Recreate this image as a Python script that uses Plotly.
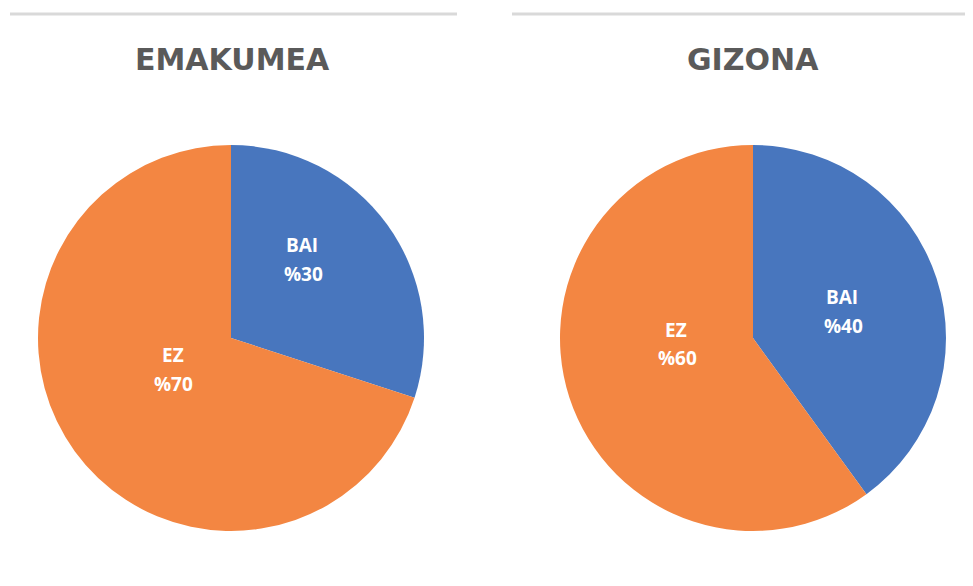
import plotly.graph_objects as go

titles = ["EMAKUMEA", "GIZONA"]
categories = ["BAI", "EZ"]
emakumea_values = [30, 70]
gizona_values = [40, 60]
colors = ["#4876BE", "#F38642"]

W, H = 973, 586
OFF = 8  # page offset of the plot div


def px(x):
    return (x - OFF) / W


def py(y):
    return 1 - (y - OFF) / H


fig = go.Figure()

pies = [
    (emakumea_values, 38, 424),
    (gizona_values, 560, 946),
]
for vals, x0, x1 in pies:
    fig.add_trace(go.Pie(
        labels=categories,
        values=vals,
        sort=False,
        direction="clockwise",
        rotation=0,
        marker=dict(colors=colors, line=dict(width=0)),
        textinfo="none",
        domain=dict(x=[px(x0), px(x1)], y=[py(531), py(145)]),
        showlegend=False,
        hoverinfo="label+percent",
    ))

# label positions (name line, value line) per pie, per category
label_pos = [
    [((302, 245), (303, 274)), ((173, 355), (173, 384))],
    [((842, 297), (843, 326)), ((676, 330), (677, 358))],
]
lab_font = dict(family="Open Sans", size=19, color="white", weight="bold")
for vals, positions in zip([emakumea_values, gizona_values], label_pos):
    for cat, v, (p1, p2) in zip(categories, vals, positions):
        fig.add_annotation(text=cat, x=px(p1[0]), y=py(p1[1]), xref="paper", yref="paper",
                           showarrow=False, xanchor="center", yanchor="middle", font=lab_font)
        fig.add_annotation(text=f"%{v}", x=px(p2[0]), y=py(p2[1]), xref="paper", yref="paper",
                           showarrow=False, xanchor="center", yanchor="middle", font=lab_font)

title_x = [232, 753]
for t, x in zip(titles, title_x):
    fig.add_annotation(
        text=t, x=px(x), y=py(60), xref="paper", yref="paper",
        showarrow=False, xanchor="center", yanchor="middle",
        font=dict(family="DejaVu Sans", size=30, color="#5A5A5A", weight="bold"),
    )

for x0, x1 in [(10, 457), (512, 968)]:
    fig.add_shape(type="line", xref="paper", yref="paper",
                  x0=px(x0), x1=px(x1), y0=py(14), y1=py(14),
                  line=dict(color="#D9D9D9", width=3))

fig.update_layout(
    width=W, height=H,
    margin=dict(l=0, r=0, t=0, b=0),
    paper_bgcolor="white",
    plot_bgcolor="white",
)
fig.write_html("out.html")
